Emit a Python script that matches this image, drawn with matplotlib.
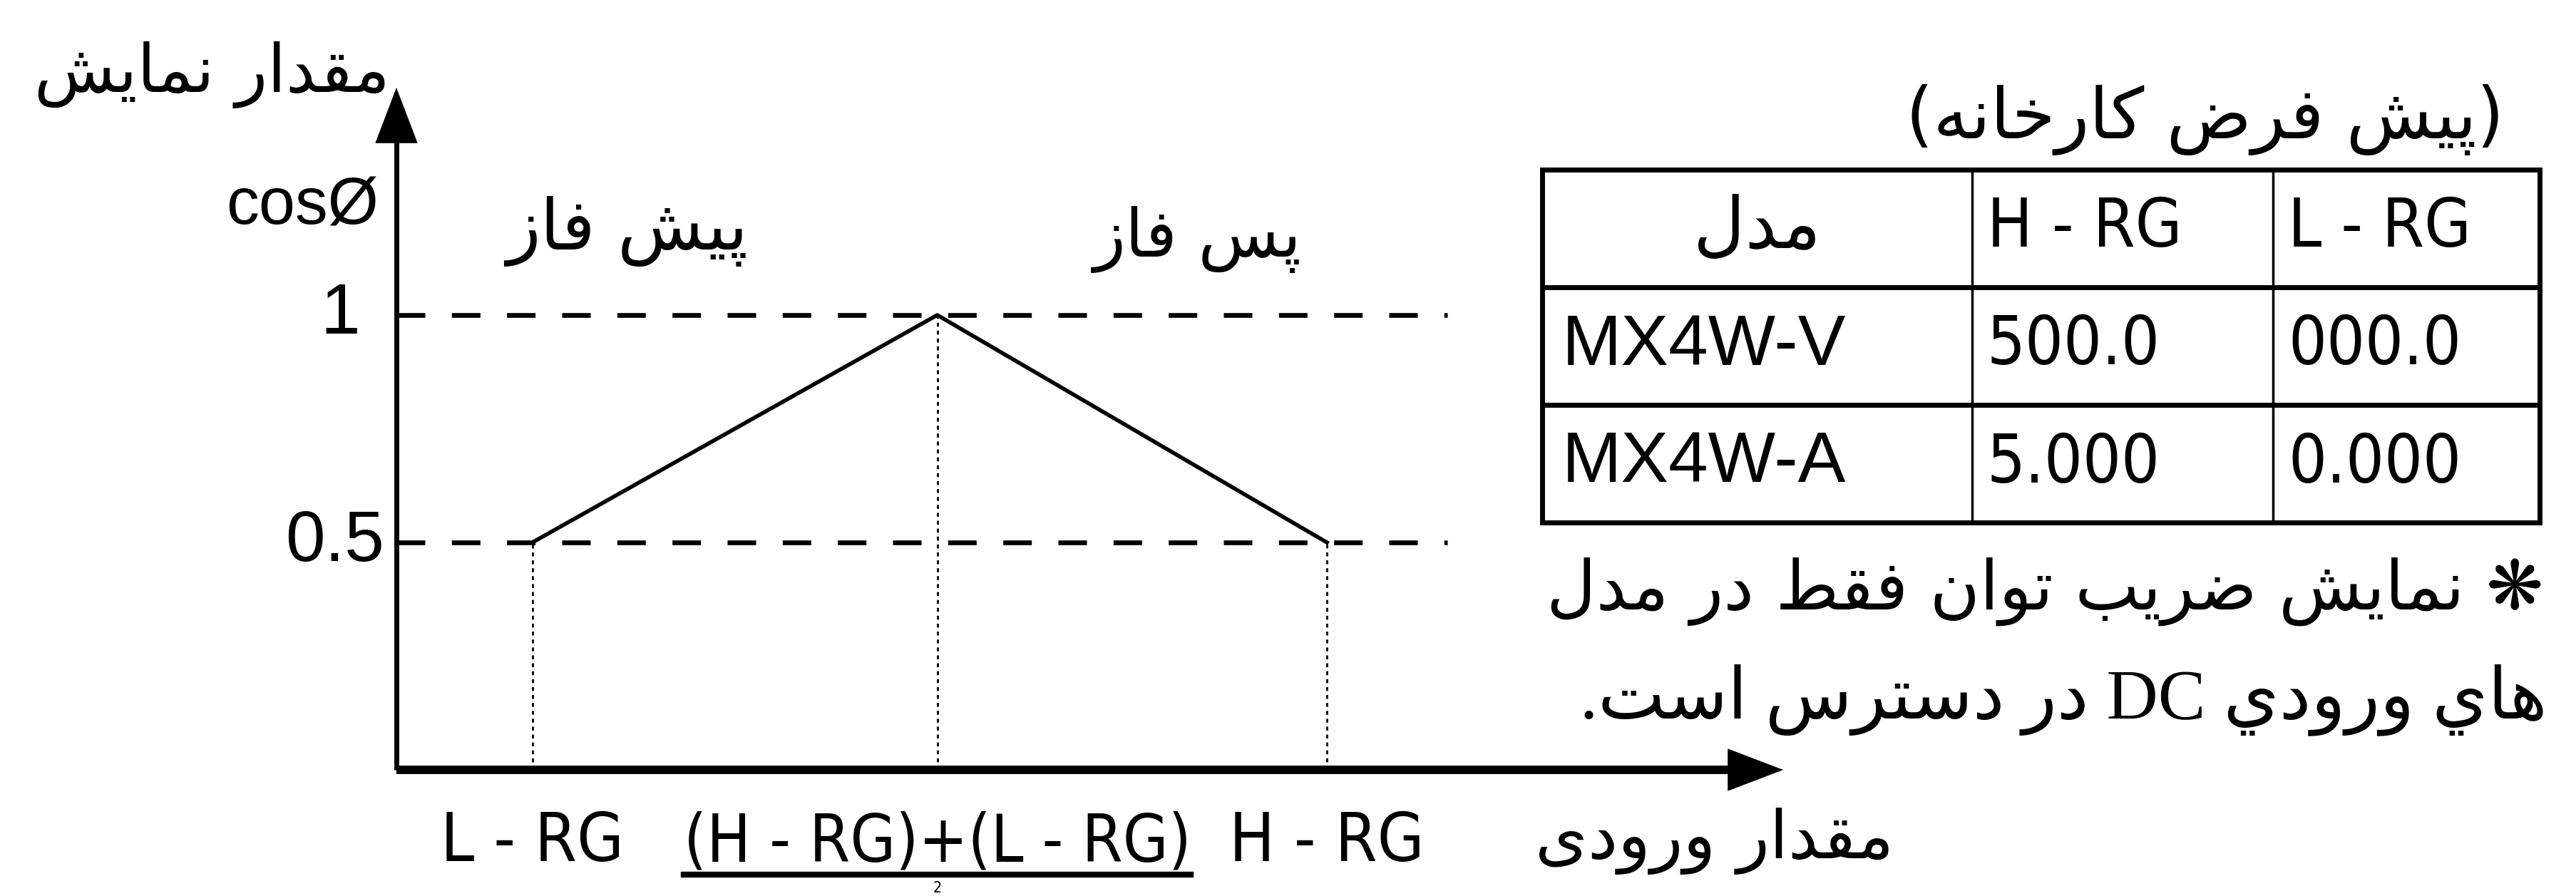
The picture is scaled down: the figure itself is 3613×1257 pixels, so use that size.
import matplotlib
matplotlib.use('Agg')
import matplotlib.pyplot as plt
from matplotlib import font_manager, ft2font
from matplotlib.font_manager import FontProperties
from matplotlib.lines import Line2D

W, H, DPI = 3613, 1257, 100

# ---- data ----
x_names = ['L - RG', '(H - RG)+(L - RG)', 'H - RG']
x_pos = [0.98, 3.90, 6.71]
cos_phi = [0.5, 1.0, 0.5]
y_levels = [0.5, 1.0]
y_level_labels = ['0.5', '1']

table_header = ['مدل', 'H - RG', 'L - RG']
models = ['MX4W-V', 'MX4W-A']
h_rg = ['500.0', '5.000']
l_rg = ['000.0', '0.000']

y_title = 'مقدار نمایش'
x_title = 'مقدار ورودی'
lead_txt = 'پیش فاز'
lag_txt = 'پس فاز'
table_title = '(پیش فرض کارخانه)'
note_1 = '❋ نمایش ضریب توان فقط در مدل'
note_2 = 'هاي ورودي DC در دسترس است.'

# ---- simple Persian shaping (matplotlib does not join Arabic letters) ----
_D = {  # isolated, final, initial, medial
    'ب': (0xFE8F, 0xFE90, 0xFE91, 0xFE92), 'پ': (0xFB56, 0xFB57, 0xFB58, 0xFB59),
    'ت': (0xFE95, 0xFE96, 0xFE97, 0xFE98), 'خ': (0xFEA5, 0xFEA6, 0xFEA7, 0xFEA8),
    'س': (0xFEB1, 0xFEB2, 0xFEB3, 0xFEB4), 'ش': (0xFEB5, 0xFEB6, 0xFEB7, 0xFEB8),
    'ض': (0xFEBD, 0xFEBE, 0xFEBF, 0xFEC0), 'ط': (0xFEC1, 0xFEC2, 0xFEC3, 0xFEC4),
    'ف': (0xFED1, 0xFED2, 0xFED3, 0xFED4), 'ق': (0xFED5, 0xFED6, 0xFED7, 0xFED8),
    'ک': (0xFB8E, 0xFB8F, 0xFB90, 0xFB91), 'ل': (0xFEDD, 0xFEDE, 0xFEDF, 0xFEE0),
    'م': (0xFEE1, 0xFEE2, 0xFEE3, 0xFEE4), 'ن': (0xFEE5, 0xFEE6, 0xFEE7, 0xFEE8),
    'ه': (0xFEE9, 0xFEEA, 0xFEEB, 0xFEEC), 'ی': (0xFBFC, 0xFBFD, 0xFBFE, 0xFBFF),
    'ي': (0xFEF1, 0xFEF2, 0xFEF3, 0xFEF4),
}
_R = {  # isolated, final
    'ا': (0xFE8D, 0xFE8E), 'د': (0xFEA9, 0xFEAA), 'ر': (0xFEAD, 0xFEAE),
    'ز': (0xFEAF, 0xFEB0), 'و': (0xFEED, 0xFEEE),
}
_ft = ft2font.FT2Font(font_manager.findfont('DejaVu Sans'))


def shape(word):
    out = []
    for i, c in enumerate(word):
        forms = _D.get(c) or _R.get(c)
        if forms is None:
            out.append(c)
            continue
        prev = word[i - 1] if i > 0 else ''
        nxt = word[i + 1] if i + 1 < len(word) else ''
        jp = prev in _D
        jn = c in _D and (nxt in _D or nxt in _R)
        k = 3 if (jp and jn) else 1 if jp else 2 if jn else 0
        g = chr(forms[k])
        out.append(g if _ft.get_char_index(ord(g)) else c)
    return ''.join(out)


def rtl(text):
    mirror = {'(': ')', ')': '('}
    vis = []
    for w in reversed(text.split(' ')):
        if any('\u0600' <= ch <= '\u06FF' for ch in w):
            vis.append(''.join(mirror.get(ch, ch) for ch in reversed(shape(w))))
        else:
            vis.append(w)
    return ' '.join(vis)


# narrow face for the "seven segment" style labels, if one is installed
narrow = [f.fname for f in font_manager.fontManager.ttflist
          if ('Condensed' in f.fname or 'Narrow' in f.fname)
          and 'Bold' not in f.fname and 'Oblique' not in f.fname and 'Italic' not in f.fname]
narrow.sort(key=lambda p: (0 if 'DejaVuSans' in p else 1, p))


def seg_font(size):
    if narrow:
        return FontProperties(fname=narrow[0], size=size)
    return FontProperties(family='DejaVu Sans', weight='light', size=size * 0.92)


ARAB = ['DejaVu Sans']
LAT = ['Liberation Sans', 'DejaVu Sans']

fig = plt.figure(figsize=(W / DPI, H / DPI), dpi=DPI)


def ftxt(x, y, s, **kw):
    return fig.text(x / W, 1 - y / H, s, **kw)


# ---- chart ----
ax = fig.add_axes([556 / W, 1 - 1080 / H, (2501 - 556) / W, (1080 - 123) / H])
ax.set_xlim(0, 10)
ax.set_ylim(0, 1.5)
ax.axis('off')

ax.hlines(y_levels, 0, 7.58, colors='k', lw=4.8, linestyles=[(0, (6.0, 5.6))])
ax.vlines(x_pos, 0, cos_phi, colors='k', lw=2, linestyles=[(0, (2, 2))])
ax.plot(x_pos, cos_phi, color='k', lw=4)

# axes with arrow heads
ax.plot([0, 0], [0, 1.4], color='k', lw=5, solid_capstyle='butt', clip_on=False)
ax.plot([0, 9.7], [0, 0], color='k', lw=8.5, solid_capstyle='butt', clip_on=False)
head = dict(arrowstyle='-|>,head_length=5.5,head_width=2.1', mutation_scale=10,
            color='k', lw=0.5, shrinkA=0, shrinkB=0)
ax.annotate('', xy=(0, 1.5), xytext=(0, 1.3), arrowprops=head, annotation_clip=False)
ax.annotate('', xy=(10, 0), xytext=(9.5, 0), arrowprops=head, annotation_clip=False)

# y level labels
for lv, lab, off in zip(y_levels, y_level_labels, [-0.0085, -0.026]):
    ax.text(off, lv, lab, transform=ax.get_yaxis_transform(), ha='right', va='center',
            fontsize=72, family=LAT)
ax.text(-0.013, 1.237, 'cosØ', transform=ax.get_yaxis_transform(), ha='right',
        va='center', fontsize=66, family=LAT)

# x labels
xt = []
for xp, lab, fs in zip(x_pos, x_names, [68, 66, 68]):
    xt.append(ax.text(xp, -0.134, lab, transform=ax.get_xaxis_transform(), ha='center',
                      va='baseline', fontproperties=seg_font(fs)))

# persian labels
ftxt(547, 105, rtl(y_title), ha='right', va='center', fontsize=67, family=ARAB)
ftxt(880, 325, rtl(lead_txt), ha='center', va='center', fontsize=71, family=ARAB)
ftxt(1680, 336, rtl(lag_txt), ha='center', va='center', fontsize=67, family=ARAB)
ftxt(2405, 1180, rtl(x_title), ha='center', va='center', fontsize=68, family=ARAB)

# ---- table ----
tx0, tx1, ty0, ty1 = 2163, 3562, 238, 733
tax = fig.add_axes([tx0 / W, 1 - ty1 / H, (tx1 - tx0) / W, (ty1 - ty0) / H])
tax.set_xlim(0, 1)
tax.set_ylim(1, 0)
tax.axis('off')
col_w = [0.431, 0.302, 0.267]
col_edges = [0, col_w[0], col_w[0] + col_w[1], 1]
n_rows = 1 + len(models)
row_edges = [i / n_rows for i in range(n_rows + 1)]
for r in row_edges:
    tax.plot([0, 1], [r, r], color='k', lw=5, solid_capstyle='projecting', clip_on=False)
for j, c in enumerate(col_edges):
    tax.plot([c, c], [0, 1], color='k', lw=5 if j in (0, 3) else 2.5, clip_on=False)

rows = [table_header] + [[m, h, l] for m, h, l in zip(models, h_rg, l_rg)]
pad = 0.015
for i, row in enumerate(rows):
    yc = (row_edges[i] + row_edges[i + 1]) / 2
    for j, cell in enumerate(row):
        if i == 0 and j == 0:
            tax.text((col_edges[0] + col_edges[1]) / 2, yc, rtl(cell), ha='center',
                     va='center', fontsize=72, family=ARAB)
        elif j == 0:
            tax.text(col_edges[0] + 0.02, yc, cell, ha='left', va='center',
                     fontsize=72, family=LAT)
        else:
            tax.text(col_edges[j] + pad, yc, cell, ha='left', va='center',
                     fontproperties=seg_font(68))

ftxt(3512, 168, rtl(table_title), ha='right', va='center', fontsize=71, family=ARAB)
ftxt(3567, 830, rtl(note_1), ha='right', va='center', fontsize=69, family=ARAB)
ftxt(3572, 982, rtl(note_2), ha='right', va='center', fontsize=72,
     family=['Liberation Serif', 'DejaVu Sans'])

# fraction bar under the middle label and the "2" below it
fig.canvas.draw()
bb = xt[1].get_window_extent()
fig.add_artist(Line2D([bb.x0 / W, bb.x1 / W], [1 - 1227 / H] * 2, color='k', lw=6))
ftxt((bb.x0 + bb.x1) / 2, 1236, '2', ha='center', va='top', fontproperties=seg_font(15))

fig.savefig('out.png', dpi=DPI)
